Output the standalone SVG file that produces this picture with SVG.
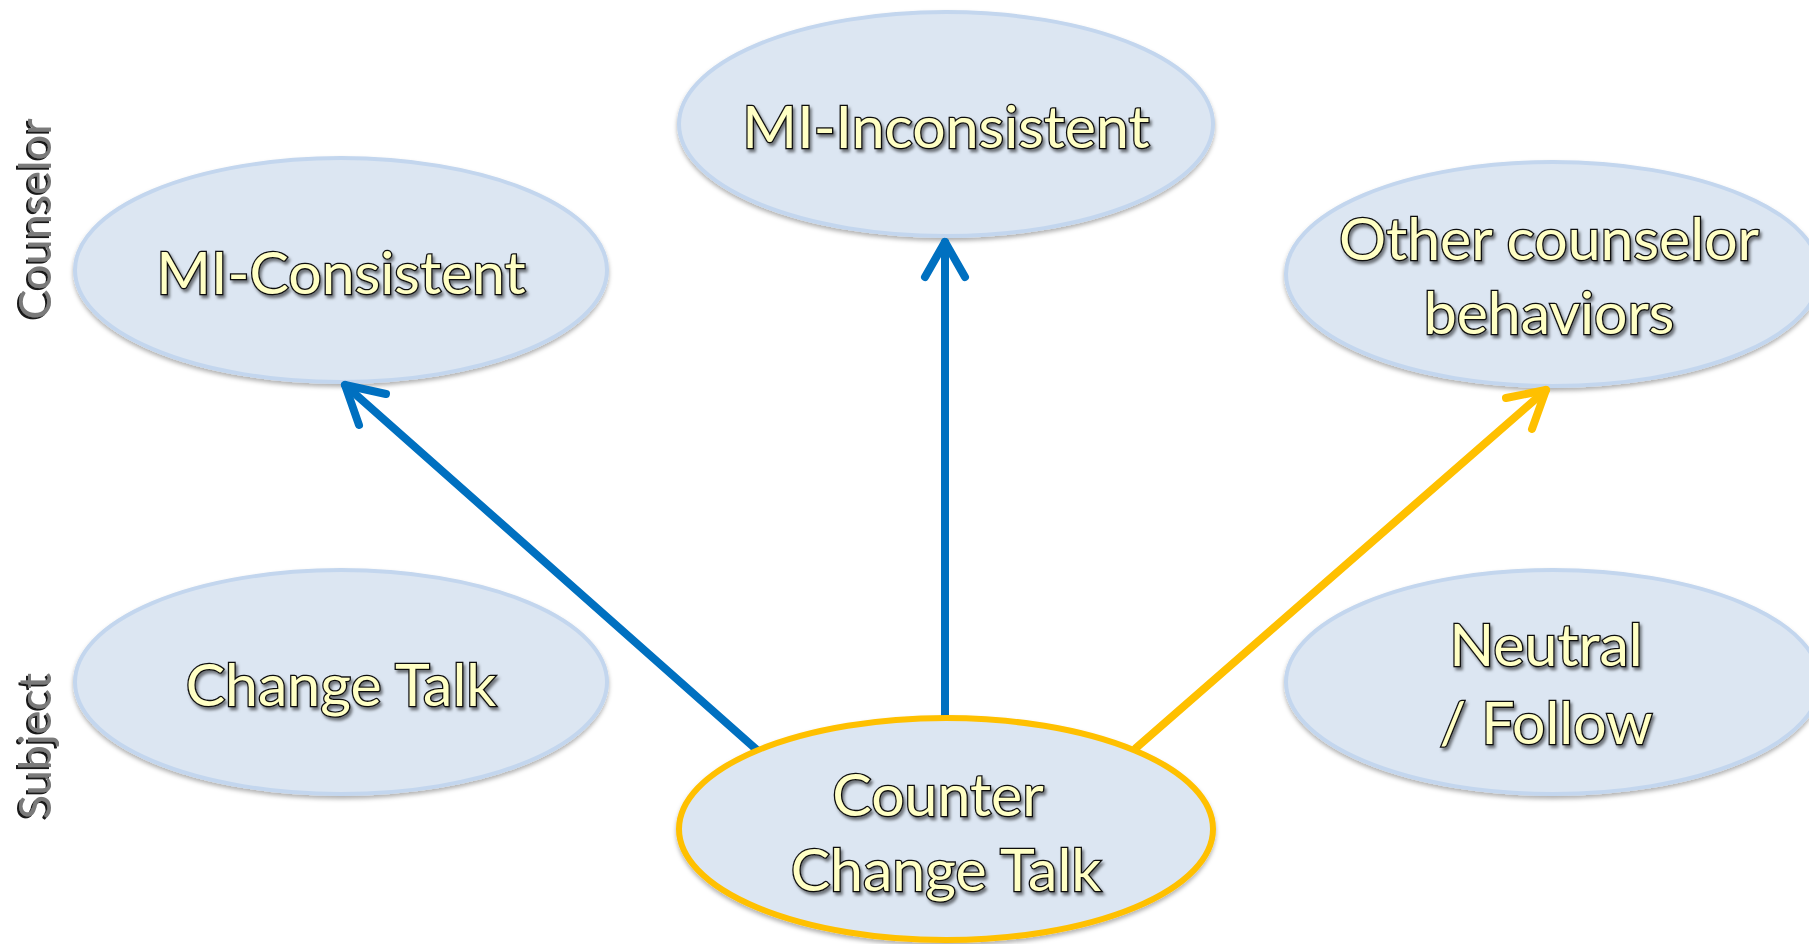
<svg xmlns="http://www.w3.org/2000/svg" width="1809" height="944" viewBox="0 0 1809 944">
<style>
.node ellipse{fill:#DCE6F2;stroke:#C3D6EE;stroke-width:4;filter:url(#sh)}
.node ellipse.hl{stroke:#FFC000;stroke-width:6}
.lbl{font-family:Lato,"Open Sans","Liberation Sans",sans-serif;font-size:59px;fill:#FFFFC4;stroke:#111;stroke-width:2.6;paint-order:stroke;text-anchor:middle;dominant-baseline:central;filter:url(#tsh)}
.side{font-family:Lato,"Liberation Sans",sans-serif;font-size:45px;fill:#7a7a7a;text-anchor:middle;dominant-baseline:central;filter:url(#ssh)}
.conn line,.conn polyline{stroke-width:8;stroke-linecap:round;stroke-linejoin:round;fill:none}
</style>
<defs>
<filter id="sh" x="-10%" y="-10%" width="120%" height="130%">
<feDropShadow dx="0" dy="3" stdDeviation="2" flood-color="#000" flood-opacity="0.3"/>
</filter>
<filter id="tsh" x="-10%" y="-20%" width="120%" height="150%">
<feDropShadow dx="2" dy="3" stdDeviation="1.5" flood-color="#000" flood-opacity="0.5"/>
</filter>
<filter id="ssh" x="-20%" y="-20%" width="140%" height="140%">
<feDropShadow dx="-2" dy="-2" stdDeviation="0.3" flood-color="#000" flood-opacity="0.9"/>
</filter>
</defs>
<rect width="1809" height="944" fill="#fff"/>
<g id="side-labels">
<text class="side" transform="translate(34,219) rotate(-90)">Counselor</text>
<text class="side" transform="translate(34,746) rotate(-90)">Subject</text>
</g>
<g id="node-mi-consistent" class="node">
<ellipse cx="341" cy="270" rx="266" ry="112"/>
<text class="lbl" x="341" y="271">MI-Consistent</text>
</g>
<g id="node-mi-inconsistent" class="node">
<ellipse cx="946" cy="124" rx="267" ry="112"/>
<text class="lbl" x="946" y="125">MI-Inconsistent</text>
</g>
<g id="node-other" class="node">
<ellipse cx="1553" cy="274" rx="267" ry="112"/>
<text class="lbl" x="1549" y="237">Other counselor</text>
<text class="lbl" x="1549" y="311">behaviors</text>
</g>
<g id="node-change-talk" class="node">
<ellipse cx="341" cy="682" rx="266" ry="112"/>
<text class="lbl" x="341" y="683">Change Talk</text>
</g>
<g id="node-neutral" class="node">
<ellipse cx="1553" cy="682" rx="267" ry="112"/>
<text class="lbl" x="1546" y="643">Neutral</text>
<text class="lbl" x="1546" y="721">/ Follow</text>
</g>
<g id="connectors" class="conn">
<line x1="757" y1="750" x2="345" y2="385" stroke="#0070C0"/>
<polyline points="359,425 345,385 386,394" stroke="#0070C0"/>
<line x1="945" y1="716" x2="945" y2="242" stroke="#0070C0"/>
<polyline points="925,277 945,242 965,277" stroke="#0070C0"/>
<line x1="1136" y1="748" x2="1546" y2="390" stroke="#FFC000"/>
<polyline points="1506,398 1546,390 1532,429" stroke="#FFC000"/>
</g>
<g id="node-counter" class="node">
<ellipse class="hl" cx="946" cy="829" rx="267" ry="111"/>
<text class="lbl" x="938" y="793">Counter</text>
<text class="lbl" x="946" y="868">Change Talk</text>
</g>
</svg>
